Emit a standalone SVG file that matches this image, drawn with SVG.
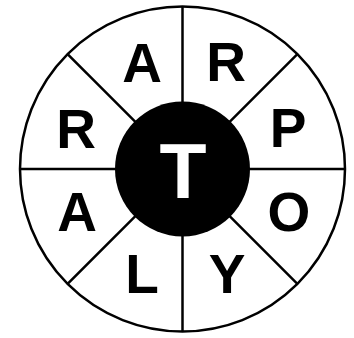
<svg xmlns="http://www.w3.org/2000/svg" width="354" height="338" viewBox="0 0 354 338">
<style>
.ln{stroke:#000;stroke-width:2.5;fill:none}
.lt{font-family:"Liberation Sans",Arial,sans-serif;font-weight:bold;font-size:55px;text-anchor:middle;fill:#000}
.ct{font-family:"Liberation Sans",Arial,sans-serif;font-weight:bold;font-size:77px;text-anchor:middle;fill:#fff}
</style>
<rect width="354" height="338" fill="#fff"/>
<g id="ring">
<circle class="ln" cx="182.5" cy="169" r="162.5"/>
</g>
<g id="connectors">
<line class="ln" x1="182.5" y1="6.5" x2="182.5" y2="331.5"/>
<line class="ln" x1="20" y1="169" x2="345" y2="169"/>
<line class="ln" x1="67.6" y1="54.1" x2="297.4" y2="283.9"/>
<line class="ln" x1="297.4" y1="54.1" x2="67.6" y2="283.9"/>
</g>
<g id="center">
<circle cx="182.5" cy="169" r="67.5" fill="#000"/>
<text class="ct" x="183" y="198">T</text>
</g>
<g id="n1"><text class="lt" x="142" y="82">A</text></g>
<g id="n2"><text class="lt" x="226" y="81">R</text></g>
<g id="n3"><text class="lt" x="288" y="147">P</text></g>
<g id="n4"><text class="lt" x="289" y="231">O</text></g>
<g id="n5"><text class="lt" x="227" y="293">Y</text></g>
<g id="n6"><text class="lt" x="142" y="293">L</text></g>
<g id="n7"><text class="lt" x="77" y="231">A</text></g>
<g id="n8"><text class="lt" x="76" y="148">R</text></g>
</svg>
